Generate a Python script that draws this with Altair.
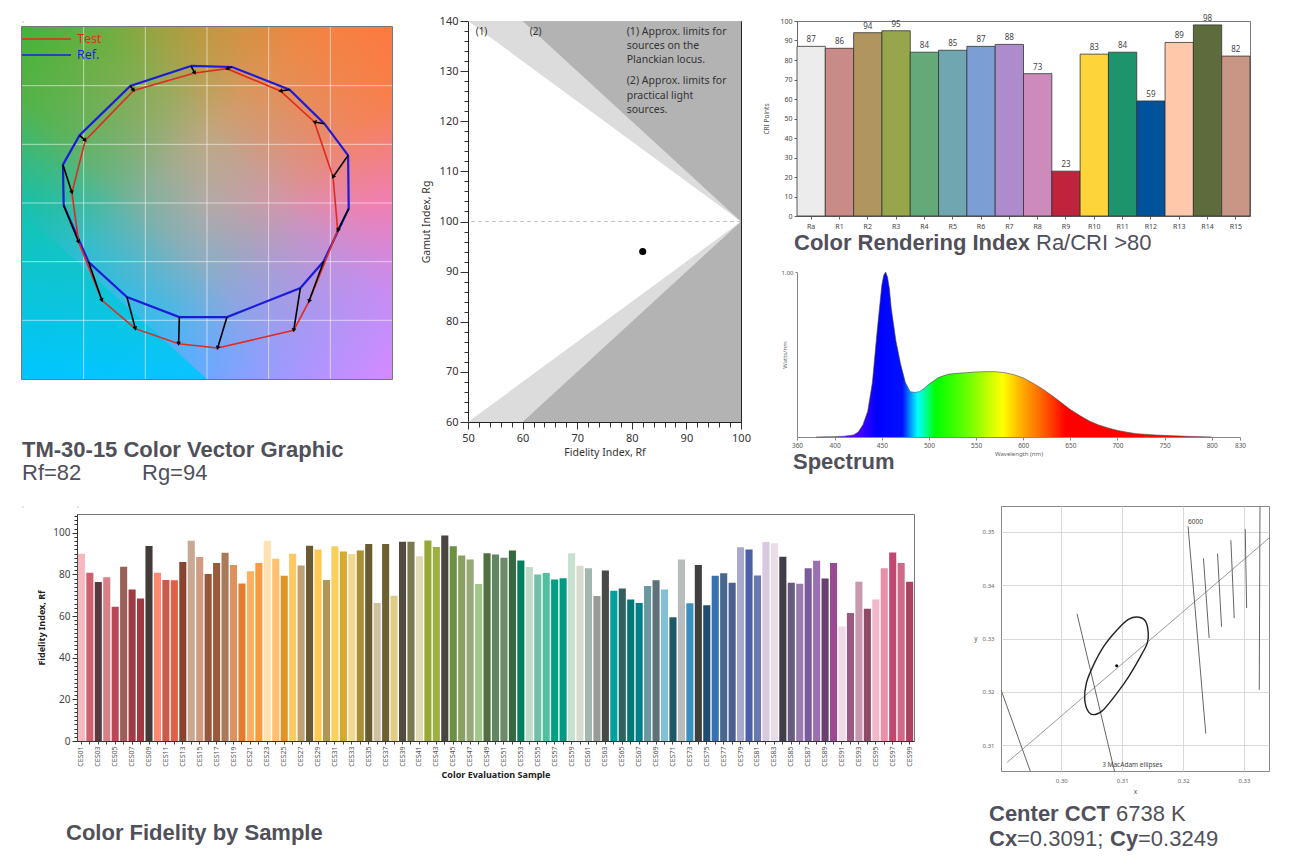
import altair as alt
import pandas as pd

TXT = '#50505a'
TFONT = 'Liberation Sans'
AFONT = 'Noto Sans'
TSIZE = 22

# ---------------- Panel A : TM-30 colour vector graphic ----------------
ref_x = [-0.130, 0.203, 0.670, 0.952, 1.144, 1.149, 0.946, 0.757, 0.162, -0.224, -0.649, -0.960, -1.162, -1.168, -1.033, -0.622]
ref_y = [1.168, 1.159, 0.966, 0.676, 0.406, -0.048, -0.497, -0.725, -0.972, -0.972, -0.801, -0.503, -0.020, 0.327, 0.577, 0.997]
test_x = [-0.100, 0.162, 0.595, 0.871, 1.022, 1.060, 0.827, 0.703, 0.086, -0.230, -0.581, -0.852, -1.041, -1.095, -0.987, -0.595]
test_y = [1.108, 1.145, 0.955, 0.691, 0.222, -0.233, -0.838, -1.085, -1.236, -1.199, -1.071, -0.830, -0.332, 0.088, 0.534, 0.960]
grid_vals = [-1.0, -0.5, 0.0, 0.5, 1.0]
cyan_wedge_x = [-1.5, 0.0]
cyan_wedge_y = [-0.077, -1.5]
rf_value, rg_value = 82, 94

# ---------------- Panel B : Rf / Rg gamut chart ----------------
lim1_x = [50, 100]
lim1_up = [140, 100]
lim1_lo = [60, 100]
lim2_x = [50, 60, 100]
lim2_up = [140, 140, 100]
lim2_lo = [60, 60, 100]
note_lines = ['(1) Approx. limits for', 'sources on the', 'Planckian locus.',
              '(2) Approx. limits for', 'practical light', 'sources.']
note_y = [137.9, 135.05, 132.2, 127.95, 125.1, 122.25]

# ---------------- Panel C1 : CRI ----------------
cri_names = ['Ra', 'R1', 'R2', 'R3', 'R4', 'R5', 'R6', 'R7', 'R8', 'R9', 'R10', 'R11', 'R12', 'R13', 'R14', 'R15']
cri_vals = [87, 86, 94, 95, 84, 85, 87, 88, 73, 23, 83, 84, 59, 89, 98, 82]
cri_cols = ['#ececec', '#c98b87', '#b0955f', '#97a54b', '#64aa78', '#6fa6b0', '#7b9ed4', '#ae8ccb',
            '#cc8bbb', '#c0233c', '#fdd43a', '#1e946c', '#00539a', '#ffc8aa', '#5e6b3c', '#c99584']

# ---------------- Panel C2 : spectrum ----------------
wl = [380, 400, 410, 420, 425, 430, 435, 440, 445, 450, 452, 454, 456, 458, 460, 465, 470, 475, 480,
      485, 490, 495, 500, 510, 520, 530, 540, 550, 560, 570, 580, 590, 600, 610, 620, 630, 640, 650,
      660, 670, 680, 690, 700, 710, 720, 740, 760, 780, 800]
pw = [0, 0.002, 0.005, 0.012, 0.03, 0.075, 0.155, 0.33, 0.64, 0.92, 0.98, 1.0, 0.97, 0.9, 0.78, 0.58,
      0.44, 0.33, 0.275, 0.27, 0.275, 0.295, 0.32, 0.36, 0.38, 0.386, 0.39, 0.394, 0.396, 0.396, 0.39,
      0.378, 0.358, 0.327, 0.293, 0.253, 0.21, 0.166, 0.13, 0.097, 0.073, 0.055, 0.04, 0.029, 0.02,
      0.012, 0.007, 0.003, 0]
spec_stop_wl = [380, 425, 445, 472, 480, 488, 497, 507, 540, 565, 578, 600, 625, 645, 800]
spec_stop_col = ['#8a00ff', '#4a00ff', '#0000ff', '#0010ff', '#0090ff', '#00ffff', '#00ff90', '#00ff00',
                 '#66ff00', '#ccff00', '#ffff00', '#ffa800', '#ff5000', '#ff0000', '#ff0000']
wl_ticks = [360, 400, 450, 500, 550, 600, 650, 700, 750, 800, 830]

# ---------------- Panel D : fidelity by sample ----------------
ces_vals = [89.9, 80.8, 76.4, 78.6, 64.5, 83.7, 72.8, 68.4, 93.6, 80.8,
            77.3, 77.2, 86.0, 96.2, 88.3, 80.2, 85.5, 90.4, 84.5, 75.6,
            81.5, 85.5, 96.2, 87.5, 79.4, 89.9, 84.3, 93.8, 92.0, 77.3,
            93.5, 91.0, 89.8, 91.5, 94.6, 66.3, 94.6, 69.8, 95.7, 95.7,
            88.7, 96.3, 93.1, 98.7, 93.5, 89.1, 87.1, 75.4, 90.1, 89.5,
            88.0, 91.5, 86.7, 83.5, 79.9, 80.7, 77.6, 78.1, 90.1, 84.2,
            82.9, 69.6, 81.9, 72.2, 73.2, 67.9, 66.3, 74.4, 77.2, 72.7,
            59.4, 87.2, 66.1, 84.5, 65.2, 79.4, 80.5, 76.0, 93.0, 92.0,
            79.5, 95.5, 95.0, 88.5, 76.0, 75.5, 83.0, 86.5, 78.0, 85.5,
            55.0, 61.5, 76.5, 63.5, 68.0, 83.0, 90.5, 85.5, 76.5]
ces_cols = ['#f8b8c0', '#d06070', '#5a3a40', '#d88088', '#b84858', '#9a6058', '#a03a44', '#a03a40', '#443a38', '#ff8a70',
            '#cc5a48', '#e06048', '#864530', '#c8a892', '#d29a80', '#96583a', '#985a38', '#a87a5a', '#e0905a', '#e07e30',
            '#ffb060', '#f89a40', '#ffe0b0', '#ffc070', '#e09425', '#ffc860', '#c0a070', '#6a5a30', '#ffc850', '#b09658',
            '#f8d060', '#d4aa30', '#f0d890', '#a89030', '#6a5a30', '#d0c0a0', '#6e6030', '#e0cc88', '#504c40', '#7c7850',
            '#e0dcb8', '#98a838', '#a0b040', '#484440', '#6a9040', '#8aa060', '#98a878', '#a0c888', '#507040', '#608860',
            '#6a8a6a', '#386840', '#00805a', '#c0dcc8', '#70c0a8', '#50c0a0', '#00a080', '#009880', '#c8e0d0', '#d8dcd0',
            '#a0b8b0', '#989c98', '#484a48', '#00a0a0', '#306060', '#007878', '#00808a', '#6898a0', '#607078', '#80c0d8',
            '#205868', '#b8bcbc', '#3890c0', '#404040', '#204c70', '#3870b0', '#486890', '#4a6090', '#a8a8d0', '#4a60a8',
            '#6878b0', '#d8c8e0', '#e8dce8', '#403c48', '#6a5a80', '#9a7ab0', '#7a5c9c', '#9a70b0', '#6a4070', '#9a4a90',
            '#f0d8e8', '#9a5a80', '#c898b0', '#904a68', '#f0b8c8', '#e890a8', '#c04870', '#d06888', '#b04060']
ces_names = ['CES%02d' % (i + 1) for i in range(len(ces_vals))]

# ---------------- Panel E : chromaticity detail ----------------
locus_x = [0.2911, 0.3341]
locus_y = [0.3068, 0.3488]
iso_id = ['a', 'a', 'b', 'b', 'c', 'c', 'd', 'd', 'e', 'e', 'f', 'f', 'g', 'g', 'h', 'h']
iso_x = [0.2901, 0.2949, 0.30258, 0.30873, 0.32081, 0.32372, 0.32334, 0.32427,
         0.32565, 0.32631, 0.32784, 0.32839, 0.33020, 0.33043, 0.33262, 0.33250]
iso_y = [0.3204, 0.3052, 0.33463, 0.3052, 0.3510, 0.3122, 0.3450, 0.3301,
         0.3459, 0.3322, 0.3484, 0.3338, 0.3505, 0.3357, 0.3546, 0.3204]
ell_x = [0.31274, 0.31384, 0.31428, 0.31412, 0.31302, 0.31109, 0.30918, 0.30697,
         0.30560, 0.30450, 0.30384, 0.30412, 0.30532, 0.30697, 0.30918, 0.31109]
ell_y = [0.33399, 0.33319, 0.33101, 0.32914, 0.32666, 0.32293, 0.31981, 0.31672,
         0.31578, 0.31621, 0.31858, 0.32168, 0.32511, 0.32853, 0.33164, 0.33362]
cx_val, cy_val = 0.3091, 0.3249
cct_val = 6738

# ======================================================================
def txt(s, x, y, size=TSIZE, weight='bold', color=TXT, font=TFONT, align='left', baseline='alphabetic'):
    return alt.Chart(pd.DataFrame({'t': [s]})).mark_text(
        align=align, baseline=baseline, fontSize=size, fontWeight=weight, font=font, color=color
    ).encode(x=alt.value(x), y=alt.value(y), text='t:N')


def ghost(x, y):
    # invisible anchor that extends a panel's bounding box for layout
    return alt.Chart(pd.DataFrame({'t': ['.']})).mark_text(
        align='left', baseline='top', fontSize=1, opacity=0
    ).encode(x=alt.value(x), y=alt.value(y), text='t:N')


def spacer():
    return ghost(0, 0).properties(width=1, height=1)


def grad(stops, x1, y1, x2, y2):
    return alt.Gradient(gradient='linear', x1=x1, y1=y1, x2=x2, y2=y2,
                        stops=[alt.GradientStop(offset=o, color=c) for o, c in stops])


def rgba(h, a):
    h = h.lstrip('#')
    return 'rgba(%d,%d,%d,%.2f)' % (int(h[0:2], 16), int(h[2:4], 16), int(h[4:6], 16), a)

# ---------------- A ----------------
WA, HA = 370, 352
sA = alt.Scale(domain=[-1.5, 1.5], nice=False)
bg = pd.DataFrame({'x': [-1.5], 'x2': [1.5], 'y': [-1.5], 'y2': [1.5]})


def bg_layer(fill):
    return alt.Chart(bg).mark_rect(fill=fill).encode(
        x=alt.X('x:Q', scale=sA, axis=None), x2='x2:Q',
        y=alt.Y('y:Q', scale=sA, axis=None), y2='y2:Q')


bg_layers = [
    bg_layer('#b2aaa6'),
    bg_layer(grad([(0, rgba('#18c098', 1)), (0.5, rgba('#18c098', 0))], 0, 0, 1, 0)),
    bg_layer(grad([(0, rgba('#ff7ab0', 1)), (0.5, rgba('#ff7ab0', 0))], 1, 0, 0, 0)),
    bg_layer(grad([(0, rgba('#d0a448', 1)), (0.5, rgba('#d0a448', 0))], 0, 0, 0, 1)),
    bg_layer(grad([(0, rgba('#48b4ff', 1)), (0.5, rgba('#48b4ff', 0))], 0, 1, 0, 0)),
    bg_layer(grad([(0, rgba('#40b43c', 1)), (0.4, rgba('#40b43c', 0))], 0, 0, 1, 1)),
    bg_layer(grad([(0, rgba('#ff7840', 1)), (0.4, rgba('#ff7840', 0))], 1, 0, 0, 1)),
    bg_layer(grad([(0, rgba('#00c8ff', 1)), (0.4, rgba('#00c8ff', 0))], 0, 1, 1, 0)),
    bg_layer(grad([(0, rgba('#d888ff', 1)), (0.4, rgba('#d888ff', 0))], 1, 1, 0, 0)),
]
wedge = alt.Chart(pd.DataFrame({'x': cyan_wedge_x, 'y': cyan_wedge_y, 'y2': [-1.5, -1.5]})).mark_area(
    fill=grad([(0, rgba('#14c4b0', 0.85)), (1, rgba('#00c6ff', 0.9))], 0, 0, 0, 1)).encode(
    x=alt.X('x:Q', scale=sA, axis=None), y=alt.Y('y:Q', scale=sA, axis=None), y2='y2:Q')

gdf = pd.DataFrame({'g': grid_vals})
vgrid = alt.Chart(gdf).mark_rule(color='white', opacity=0.55, strokeWidth=1).encode(x=alt.X('g:Q', scale=sA, axis=None))
hgrid = alt.Chart(gdf).mark_rule(color='white', opacity=0.55, strokeWidth=1).encode(y=alt.Y('g:Q', scale=sA, axis=None))

rows = []
for ser, xs_, ys_ in [('Ref.', ref_x, ref_y), ('Test', test_x, test_y)]:
    for i in range(len(xs_) + 1):
        k = i % len(xs_)
        rows.append({'series': ser, 'x': xs_[k], 'y': ys_[k], 'o': i})
poly = alt.Chart(pd.DataFrame(rows)).mark_line().encode(
    x=alt.X('x:Q', scale=sA, axis=None), y=alt.Y('y:Q', scale=sA, axis=None),
    color=alt.Color('series:N', scale=alt.Scale(domain=['Ref.', 'Test'], range=['#1c1cd8', '#e02a20']), legend=None),
    strokeWidth=alt.StrokeWidth('series:N', scale=alt.Scale(domain=['Ref.', 'Test'], range=[2.2, 1.6]), legend=None),
    detail='series:N', order='o:Q')

arr = pd.DataFrame({'bx': ref_x, 'by': ref_y, 'tx': test_x, 'ty': test_y})
arrows = alt.Chart(arr).mark_rule(color='black', strokeWidth=1.6).encode(
    x=alt.X('bx:Q', scale=sA, axis=None), y=alt.Y('by:Q', scale=sA, axis=None), x2='tx:Q', y2='ty:Q')
heads = alt.Chart(arr).transform_calculate(
    ang='(atan2(datum.tx - datum.bx, datum.ty - datum.by) * 180 / PI + 360) % 360'
).mark_point(shape='triangle-up', filled=True, color='black', size=22, opacity=1).encode(
    x=alt.X('tx:Q', scale=sA, axis=None), y=alt.Y('ty:Q', scale=sA, axis=None), angle=alt.Angle('ang:Q', scale=None))

leg_df = pd.DataFrame({'t': [0]})
leg = [
    alt.Chart(leg_df).mark_rule(color='#e02a20', strokeWidth=1.6).encode(x=alt.value(0), x2=alt.value(49), y=alt.value(12)),
    alt.Chart(leg_df).mark_rule(color='#1c1cd8', strokeWidth=1.6).encode(x=alt.value(0), x2=alt.value(49), y=alt.value(28)),
    txt('Test', 55, 12, size=12.5, weight='normal', color='#e02a20', font='Open Sans', baseline='middle'),
    txt('Ref.', 55, 28, size=12.5, weight='normal', color='#1c1cd8', font='Open Sans', baseline='middle'),
]
titleA = [
    txt('TM-30-15 Color Vector Graphic', 0, 430),
    txt('Rf=%d' % rf_value, 0, 453, weight='normal'),
    txt('Rg=%d' % rg_value, 120, 453, weight='normal'),
]
panelA = alt.layer(*bg_layers, wedge, vgrid, hgrid, poly, arrows, heads, *leg, *titleA).properties(
    width=WA, height=HA, view=alt.ViewBackground(stroke='#4a4a4a', strokeWidth=1.5))

# ---------------- B ----------------
WB, HB = 273, 401
sBx = alt.Scale(domain=[50, 100], nice=False)
sBy = alt.Scale(domain=[60, 140], nice=False)
axBx = alt.Axis(values=list(range(50, 101, 2)), labelExpr="datum.value % 10 == 0 ? datum.label : ''",
                tickSize={'condition': {'test': 'datum.value % 10 == 0', 'value': 7}, 'value': 5},
                title='Fidelity Index, Rf', grid=False, labelFlush=False, labelOverlap=False,
                labelFont=AFONT, titleFont=AFONT,
                labelFontSize=11, titleFontSize=10.5, titleFontWeight='normal', labelColor='#333',
                titleColor='#333', domainColor='#222', tickColor='#333', labelPadding=3, titlePadding=4)
axBy = alt.Axis(values=list(range(60, 141, 2)), labelExpr="datum.value % 10 == 0 ? datum.label : ''",
                tickSize={'condition': {'test': 'datum.value % 10 == 0', 'value': 8}, 'value': 4},
                title='Gamut Index, Rg', grid=False, labelFlush=False, labelOverlap=False,
                labelFont=AFONT, titleFont=AFONT,
                labelFontSize=11, titleFontSize=10.5, titleFontWeight='normal', labelColor='#333',
                titleColor='#333', domainColor='#222', tickColor='#333', labelPadding=2, titlePadding=8)
xB = lambda f: alt.X(f, type='quantitative', scale=sBx, axis=axBx)
yB = lambda f: alt.Y(f, type='quantitative', scale=sBy, axis=axBy)

light_df = pd.DataFrame({'x': lim1_x * 2, 'y': lim1_up + lim1_lo,
                         'y2': [140, 140, 60, 60], 'r': ['u', 'u', 'l', 'l']})
dark_df = pd.DataFrame({'x': lim2_x * 2, 'y': lim2_up + lim2_lo,
                        'y2': [140, 140, 140, 60, 60, 60], 'r': ['u'] * 3 + ['l'] * 3})
light = alt.Chart(light_df).mark_area(color='#dcdcdc').encode(x=xB('x'), y=yB('y'), y2='y2:Q', detail='r:N')
dark = alt.Chart(dark_df).mark_area(color='#b3b3b3').encode(x=xB('x'), y=yB('y'), y2='y2:Q', detail='r:N')
dash = alt.Chart(pd.DataFrame({'y': [100]})).mark_rule(color='#c4c4c4', strokeDash=[4, 3], strokeWidth=1).encode(
    y=yB('y'))
dot = alt.Chart(pd.DataFrame({'rf': [rf_value], 'rg': [rg_value]})).mark_circle(size=50, color='black', opacity=1).encode(
    x=xB('rf'), y=yB('rg'))
lab12 = alt.Chart(pd.DataFrame({'t': ['(1)', '(2)'], 'x': [51.4, 61.3], 'y': [137.9, 137.9]})).mark_text(
    align='left', baseline='middle', font=AFONT, fontSize=10, color='#333').encode(
    x=xB('x'), y=yB('y'), text='t:N')
notes = alt.Chart(pd.DataFrame({'t': note_lines, 'y': note_y, 'x': [79.07] * len(note_lines)})).mark_text(
    align='left', baseline='middle', font=AFONT, fontSize=10.5, color='#333').encode(
    x=xB('x'), y=yB('y'), text='t:N')
panelB = alt.layer(light, dark, dash, dot, lab12, notes).properties(
    width=WB, height=HB, view=alt.ViewBackground(stroke='#222', strokeWidth=1))

# ---------------- C1 ----------------
WC, HC1, WC2, HC2 = 453, 195, 443, 165
cri_df = pd.DataFrame({'n': cri_names, 'v': cri_vals, 'c': cri_cols})
xC = alt.X('n:N', sort=cri_names, scale=alt.Scale(paddingInner=0, paddingOuter=0),
           axis=alt.Axis(title=None, labelAngle=0, labelFontSize=7, labelColor='#444', labelFont=AFONT,
                         domainColor='#666', tickColor='#666', tickSize=3, labelPadding=3))
yC = alt.Y('v:Q', scale=alt.Scale(domain=[0, 100], nice=False),
           axis=alt.Axis(values=list(range(0, 101, 10)), title='CRI Points', titleFontSize=6.5,
                         titleFontWeight='normal', titleColor='#555', labelFontSize=7, labelColor='#444',
                         labelFont=AFONT, titleFont=AFONT, grid=False, domainColor='#666', tickColor='#666',
                         tickSize=3, labelFlush=False, labelOverlap=False, titlePadding=10))
bars = alt.Chart(cri_df).mark_bar(stroke='#333', strokeWidth=0.8).encode(
    x=xC, y=yC, color=alt.Color('c:N', scale=None))
blabels = alt.Chart(cri_df).mark_text(baseline='bottom', dy=-2, fontSize=8, color='#444', font=AFONT).encode(
    x=xC, y=yC, text='v:Q')
titleC = [
    txt('Color Rendering Index', -3, 229),
    txt('Ra/CRI >80', -3 + 236 + 6, 229, weight='normal'),
]
panelC1 = alt.layer(bars, blabels, *titleC).properties(
    width=WC, height=HC1, view=alt.ViewBackground(stroke='#777', strokeWidth=1))

# ---------------- C2 ----------------
spec_df = pd.DataFrame({'wl': wl, 'p': pw})
span = float(wl[-1] - wl[0])
spec_grad = grad([((w - wl[0]) / span, c) for w, c in zip(spec_stop_wl, spec_stop_col)], 0, 0, 1, 0)
sCx = alt.Scale(domain=[360, 830], nice=False)
sCy = alt.Scale(domain=[0, 1.0], nice=False)
axCx = alt.Axis(values=wl_ticks, title='Wavelength (nm)', titleFontSize=6, titleFontWeight='normal',
                titleColor='#666', labelFontSize=6.5, labelColor='#555', labelFont=AFONT, titleFont=AFONT,
                grid=False, domainColor='#888', tickColor='#888', tickSize=3, labelFlush=False,
                labelOverlap=False, titlePadding=2)
axCy = alt.Axis(values=[1.0], format='.2f', title='Watts/nm', titleFontSize=6, titleFontWeight='normal',
                titleColor='#666', labelFontSize=6, labelColor='#555', labelFont=AFONT, titleFont=AFONT,
                grid=False, domainColor='#888', tickColor='#888', tickSize=2, labelFlush=False, titleX=-10)
spec_area = alt.Chart(spec_df).mark_area(fill=spec_grad).encode(
    x=alt.X('wl:Q', scale=sCx, axis=axCx), y=alt.Y('p:Q', scale=sCy, axis=axCy))
spec_line = alt.Chart(spec_df).mark_line(color='#444', strokeWidth=0.6).encode(
    x=alt.X('wl:Q', scale=sCx, axis=axCx), y=alt.Y('p:Q', scale=sCy, axis=axCy))
panelC2 = alt.layer(spec_area, spec_line, txt('Spectrum', -4, 197)).properties(
    width=WC2, height=HC2, view=alt.ViewBackground(stroke='transparent', strokeWidth=0))

panelC = alt.vconcat(panelC1, panelC2, spacing=14)

# ---------------- D ----------------
WD, HD = 837, 227
ces_df = pd.DataFrame({'n': ces_names, 'v': ces_vals, 'c': ces_cols})
xD = alt.X('n:N', sort=ces_names, scale=alt.Scale(paddingInner=0.16, paddingOuter=0.1),
           axis=alt.Axis(labelExpr="toNumber(substring(datum.value, 3)) % 2 == 1 ? datum.value : ''",
                         labelAngle=270, labelFontSize=7, labelColor='#555', labelFont=AFONT, tickSize=3,
                         tickColor='#444', domainColor='#333', labelPadding=2, title='Color Evaluation Sample',
                         titleFontSize=9, titleFontWeight='bold', titleColor='#222', titleFont=AFONT,
                         labelOverlap=False, titlePadding=4))
yD = alt.Y('v:Q', scale=alt.Scale(domain=[0, 109], nice=False),
           axis=alt.Axis(values=list(range(0, 109, 2)), labelExpr="datum.value % 20 == 0 ? datum.label : ''",
                         tickSize={'condition': {'test': 'datum.value % 20 == 0', 'value': 5}, 'value': 3},
                         labelFontSize=10, labelColor='#444', labelFont=AFONT, grid=False, domainColor='#333',
                         tickColor='#333', title='Fidelity Index, Rf', titleFontSize=9, titleFontWeight='bold',
                         titleColor='#222', titleFont=AFONT, labelFlush=False, labelOverlap=False, titlePadding=6))
ces_bars = alt.Chart(ces_df).mark_bar().encode(x=xD, y=yD, color=alt.Color('c:N', scale=None))
panelD = alt.layer(ces_bars, txt('Color Fidelity by Sample', -11, 326), ghost(-45, 0)).properties(
    width=WD, height=HD, view=alt.ViewBackground(stroke='#777', strokeWidth=1))

# ---------------- E ----------------
WE, HE = 268, 265
sEx = alt.Scale(domain=[0.2901, 0.3341], nice=False)
sEy = alt.Scale(domain=[0.3052, 0.3548], nice=False)
axEx = alt.Axis(values=[0.30, 0.31, 0.32, 0.33], format='.2f', title='x', titleFontSize=6.5,
                titleFontWeight='normal', titleColor='#555', labelFontSize=6, labelColor='#666',
                labelFont=AFONT, titleFont=AFONT, grid=True, gridColor='#dadada', domain=False, ticks=False,
                labelPadding=6, labelFlush=False, labelOverlap=False, titlePadding=5)
axEy = alt.Axis(values=[0.31, 0.32, 0.33, 0.34, 0.35], format='.2f', title='y', titleAngle=0,
                titleAlign='right', titleBaseline='middle', titleX=-24, titleY=132, titleFontSize=6.5,
                titleFontWeight='normal', titleColor='#555', labelFontSize=6, labelColor='#666',
                labelFont=AFONT, titleFont=AFONT, grid=True, gridColor='#dadada', domain=False, ticks=False,
                labelPadding=7, labelFlush=False, labelOverlap=False)
xE = lambda f: alt.X(f, type='quantitative', scale=sEx, axis=axEx)
yE = lambda f: alt.Y(f, type='quantitative', scale=sEy, axis=axEy)
locus = alt.Chart(pd.DataFrame({'x': locus_x, 'y': locus_y})).mark_line(color='#9a9a9a', strokeWidth=1, clip=True).encode(
    x=xE('x'), y=yE('y'))
iso = alt.Chart(pd.DataFrame({'id': iso_id, 'x': iso_x, 'y': iso_y})).mark_line(
    color='#666', strokeWidth=1, clip=True).encode(x=xE('x'), y=yE('y'), detail='id:N')
ell = alt.Chart(pd.DataFrame({'x': ell_x, 'y': ell_y, 'o': list(range(len(ell_x)))})).mark_line(
    color='#222', strokeWidth=1.4, interpolate='cardinal-closed').encode(x=xE('x'), y=yE('y'), order='o:Q')
cdot = alt.Chart(pd.DataFrame({'x': [cx_val], 'y': [cy_val]})).mark_circle(size=10, color='black', opacity=1).encode(
    x=xE('x'), y=yE('y'))
elab = alt.Chart(pd.DataFrame({'t': ['6000', '3  MacAdam ellipses'], 'x': [0.3208, 0.30671],
                               'y': [0.3518, 0.30627]})).mark_text(
    baseline='middle', fontSize=6.5, color='#444', font=AFONT, align='left').encode(
    x=xE('x'), y=yE('y'), text='t:N')
e0 = -12
titleE = [
    txt('Center CCT', e0, 315),
    txt('%d K' % cct_val, e0 + 121 + 6, 315, weight='normal'),
    txt('Cx', e0, 340),
    txt('=%.4f;' % cx_val, e0 + 28, 340, weight='normal'),
    txt('Cy', e0 + 121, 340),
    txt('=%.4f' % cy_val, e0 + 149, 340, weight='normal'),
]
panelE = alt.layer(locus, iso, ell, cdot, elab, *titleE).properties(
    width=WE, height=HE, view=alt.ViewBackground(stroke='#888', strokeWidth=1))

# ---------------- layout ----------------
colA = alt.vconcat(spacer(), panelA, spacing=2)
top_row = alt.hconcat(alt.hconcat(colA, panelB, spacing=26), panelC, spacing=12)
colD = alt.vconcat(spacer(), panelD, spacing=2)
bottom_inner = alt.hconcat(colD, panelE, spacing=58)
bottom_row = alt.hconcat(spacer(), bottom_inner, spacing=7)

chart = alt.vconcat(top_row, bottom_row, spacing=20).properties(
    padding={'left': 12, 'top': 6, 'right': 5, 'bottom': 5}
).configure_view(stroke='transparent').configure(font=AFONT)

chart.save('out.html', embed_options={'renderer': 'svg', 'actions': False})
